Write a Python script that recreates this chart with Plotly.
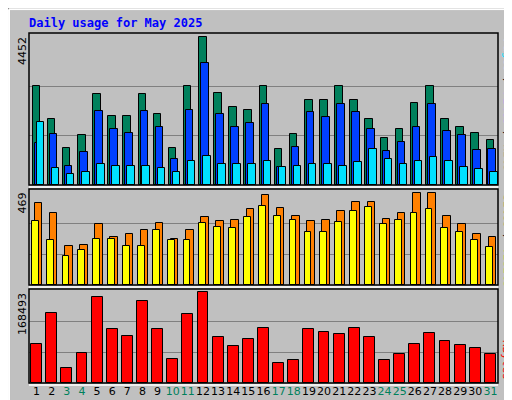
import plotly.graph_objects as go

days = list(range(1, 32))
weekend = {3, 4, 10, 11, 17, 18, 24, 25, 31}
hits = [2968,2000,1120,1514,2725,2090,2090,2725,2150,1120,2968,4452,2756,2332,2271,2968,
        1090,1545,2544,2544,2968,2544,2000,1423,1696,2453,2968,2000,1756,1575,1363]
files = [1272,1545,575,1000,2241,1696,1575,2241,1756,787,2271,3665,2150,1756,1878,2423,
         545,1150,2211,2060,2423,2211,1696,1030,1302,1756,2423,1635,1514,1060,1090]
pages = [1908,515,333,394,636,575,575,575,515,394,727,878,636,636,636,727,
         545,575,636,636,575,697,1090,787,636,727,848,727,545,485,394]
sites = [417,366,201,206,309,247,258,283,314,237,283,345,325,330,386,459,
         392,350,325,330,376,422,422,335,366,469,469,350,309,258,247]
visits = [325,232,150,180,237,237,201,201,278,227,232,314,294,289,345,402,
          350,330,268,268,320,376,397,309,330,366,386,289,268,232,196]
kbytes = [69900,127270,26890,53780,155950,98590,86040,148780,98590,43020,125480,164910,
          82460,66320,78870,100380,35850,41230,98590,93210,89630,100380,82460,41230,
          51980,69900,91420,75290,68120,62740,51980]
max_hits, max_sites, max_kb = 4452, 469, 168493

W, H = 512, 400
def fy(px): return 1 - px / H
x0, x1 = 21 / W, 490 / W

fig = go.Figure()
def bar(y, color, off, width, ax):
    fig.add_trace(go.Bar(x=days, y=y, marker=dict(color=color, line=dict(color="black", width=1)),
                         offset=off, width=width, xaxis="x" + ax, yaxis="y" + ax, showlegend=False))
bar(hits, "#00805c", -0.26, 0.5, "")
bar(files, "#0040ff", -0.13, 0.5, "")
bar(pages, "#00e0ff", 0.0, 0.5, "")
bar(sites, "#ff8000", -0.12, 0.5, "2")
bar(visits, "#ffff00", -0.28, 0.45, "2")
bar(kbytes, "#ff0000", -0.36, 0.72, "3")

ticktext = [f"<span style='color:#00805c'>{d}</span>" if d in weekend else str(d) for d in days]
common = dict(range=[0.5, 31.5], domain=[x0, x1], showgrid=False, zeroline=False, fixedrange=True)
fig.update_layout(
    width=W, height=H, margin=dict(l=0, r=0, t=0, b=0, autoexpand=False),
    paper_bgcolor="#c0c0c0", plot_bgcolor="#c0c0c0", barmode="overlay", bargap=0,
    font=dict(family="DejaVu Sans", size=11, color="black"),
    xaxis=dict(**common, showticklabels=False, anchor="y"),
    xaxis2=dict(**common, showticklabels=False, anchor="y2"),
    xaxis3=dict(**common, tickmode="array", tickvals=days, ticktext=ticktext, ticks="",
                tickangle=0, tickfont=dict(size=11), automargin=False, anchor="y3"),
    yaxis=dict(domain=[fy(177), fy(25)], range=[0, max_hits * 151 / 147], tickvals=[max_hits/3, 2*max_hits/3],
               showticklabels=False, gridcolor="#808080", zeroline=False, anchor="x"),
    yaxis2=dict(domain=[fy(277), fy(181)], range=[0, max_sites * 95 / 91], tickvals=[max_sites/3, 2*max_sites/3],
                showticklabels=False, gridcolor="#808080", zeroline=False, anchor="x2"),
    yaxis3=dict(domain=[fy(375), fy(281)], range=[0, max_kb * 94 / 93], tickvals=[max_kb/3, 2*max_kb/3],
                showticklabels=False, gridcolor="#808080", zeroline=False, anchor="x3"),
)
shapes = [
    dict(type="rect", xref="paper", yref="paper", x0=0.002, y0=0.003, x1=0.998, y1=0.997,
         line=dict(color="#808080", width=2)),
    dict(type="line", xref="paper", yref="paper", x0=0.002, y0=0.003, x1=0.002, y1=0.997,
         line=dict(color="white", width=2)),
    dict(type="line", xref="paper", yref="paper", x0=0.002, y0=0.997, x1=0.998, y1=0.997,
         line=dict(color="white", width=2)),
]
for top, bot in [(25, 177), (181, 277), (281, 375)]:
    shapes.append(dict(type="rect", xref="paper", yref="paper", x0=x0, x1=x1, y0=fy(bot), y1=fy(top),
                       line=dict(color="black", width=1.5)))
    shapes.append(dict(type="line", xref="paper", yref="paper", x0=x0, x1=x1, y0=fy(bot + 2), y1=fy(bot + 2),
                       line=dict(color="white", width=1.5)))
fig.update_layout(shapes=shapes)

ann = [
    dict(text="<b>Daily usage for May 2025</b>", x=19/W, y=fy(15), xanchor="left", yanchor="middle",
         font=dict(family="DejaVu Sans Mono", size=12, color="#0000ff")),
    dict(text=str(max_hits), x=14/W, y=fy(27), yanchor="top", textangle=-90),
    dict(text=str(max_sites), x=14/W, y=fy(183), yanchor="top", textangle=-90),
    dict(text=str(max_kb), x=14/W, y=fy(283), yanchor="top", textangle=-90),
    dict(text="<span style='color:#00e0ff'>Pages</span> / <span style='color:#0040ff'>Files</span> / <span style='color:#00805c'>Hits</span>",
         x=499/W, y=fy(28), yanchor="top", textangle=90, font=dict(family="DejaVu Sans Mono", size=11)),
    dict(text="<span style='color:#ff8000'>Sites</span> / <span style='color:#ffff00'>Visits</span>",
         x=499/W, y=fy(184), yanchor="top", textangle=90, font=dict(family="DejaVu Sans Mono", size=11)),
    dict(text="<span style='color:#ff0000'>KBytes</span>",
         x=499/W, y=fy(374), yanchor="bottom", textangle=90, font=dict(family="DejaVu Sans Mono", size=11)),
]
for a in ann:
    a.setdefault("xref", "paper"); a.setdefault("yref", "paper"); a.setdefault("showarrow", False)
    a.setdefault("xanchor", "center")
fig.update_layout(annotations=ann)
fig.write_html("out.html")
